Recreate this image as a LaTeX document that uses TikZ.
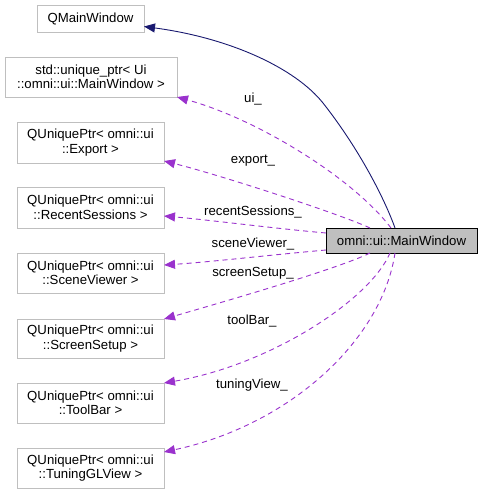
\documentclass[tikz,border=0pt]{standalone}
\usepackage{fontspec}
\setmainfont{Liberation Sans}
\usetikzlibrary{arrows.meta}
\definecolor{edgeblue}{HTML}{191970}
\definecolor{edgepurple}{HTML}{9A32CD}
\definecolor{boxgray}{HTML}{BFBFBF}
\begin{document}
\begin{tikzpicture}[x=1pt,y=-1pt,
  every node/.style={font=\fontsize{13.2}{14.5}\selectfont, inner sep=0pt, outer sep=0pt},
  classbox/.style={draw=boxgray, line width=0.9pt, fill=white, align=center, rectangle},
  mainbox/.style={draw=black, line width=0.9pt, fill=boxgray, align=center, rectangle},
  inherit/.style={draw=edgeblue, line width=0.9pt, -{Triangle[length=11pt,width=9pt]}},
  usage/.style={draw=edgepurple, line width=0.9pt, dash pattern=on 5pt off 4pt, -{Triangle[length=11pt,width=9pt]}},
  elabel/.style={fill=none}]
\useasboundingbox (0,0) rectangle (483,495);
\fill[white] (0,0) rectangle (483,495);

\node[classbox, minimum width=107pt, minimum height=27pt] (qmw) at (90.5,18.5) {QMainWindow};
\node[classbox, minimum width=172pt, minimum height=40pt] (uptr) at (91,77) {std::unique\_ptr< Ui\\::omni::ui::MainWindow >};
\node[classbox, minimum width=147pt, minimum height=41pt] (export) at (90.5,142.5) {QUniquePtr< omni::ui\\::Export >};
\node[classbox, minimum width=147pt, minimum height=41pt] (recent) at (90.5,207.5) {QUniquePtr< omni::ui\\::RecentSessions >};
\node[classbox, minimum width=147pt, minimum height=40pt] (scene) at (90.5,273) {QUniquePtr< omni::ui\\::SceneViewer >};
\node[classbox, minimum width=147pt, minimum height=39pt] (screen) at (90.5,338.5) {QUniquePtr< omni::ui\\::ScreenSetup >};
\node[classbox, minimum width=147pt, minimum height=40pt] (toolbar) at (90.5,403) {QUniquePtr< omni::ui\\::ToolBar >};
\node[classbox, minimum width=147pt, minimum height=40pt] (tuning) at (90.5,468) {QUniquePtr< omni::ui\\::TuningGLView >};
\node[mainbox, minimum width=151pt, minimum height=25pt] (main) at (401.5,240.5) {omni::ui::MainWindow};

% inheritance
\draw[inherit] ([xshift=69pt]main.north west) .. controls (385,200) and (360,150) .. (323,103)
  .. controls (295,68) and (230,38) .. ([yshift=-8pt]qmw.east);

% usage edges
\draw[usage] ([xshift=65pt]main.north west) .. controls (355,180) and (260,120) .. (uptr.south east);
\draw[usage] ([xshift=44pt]main.north west) .. controls (340,214) and (220,175) .. ([yshift=2pt]export.south east);
\draw[usage] ([yshift=-5pt]main.north west) .. controls (270,228) and (210,220) .. ([yshift=-8.5pt]recent.east);
\draw[usage] ([yshift=3pt]main.south west) .. controls (270,255) and (210,262) .. ([yshift=8pt]scene.east);
\draw[usage] ([xshift=44pt]main.south west) .. controls (340,268) and (230,300) .. (screen.north east);
\draw[usage] ([xshift=64pt]main.south west) .. controls (370,300) and (270,365) .. (toolbar.north east);
\draw[usage] ([xshift=69pt]main.south west) .. controls (382,340) and (290,425) .. ([yshift=-4pt]tuning.north east);

% labels
\node[elabel] (lui) at (253,99) {ui\_};
\node[elabel] (lexport) at (253,161) {export\_};
\node[elabel] (lrecent) at (253,212) {recentSessions\_};
\node[elabel] (lscene) at (253,244) {sceneViewer\_};
\node[elabel] (lscreen) at (253,273) {screenSetup\_};
\node[elabel] (ltool) at (252,321) {toolBar\_};
\node[elabel] (ltuning) at (252,385) {tuningView\_};
\end{tikzpicture}
\end{document}
